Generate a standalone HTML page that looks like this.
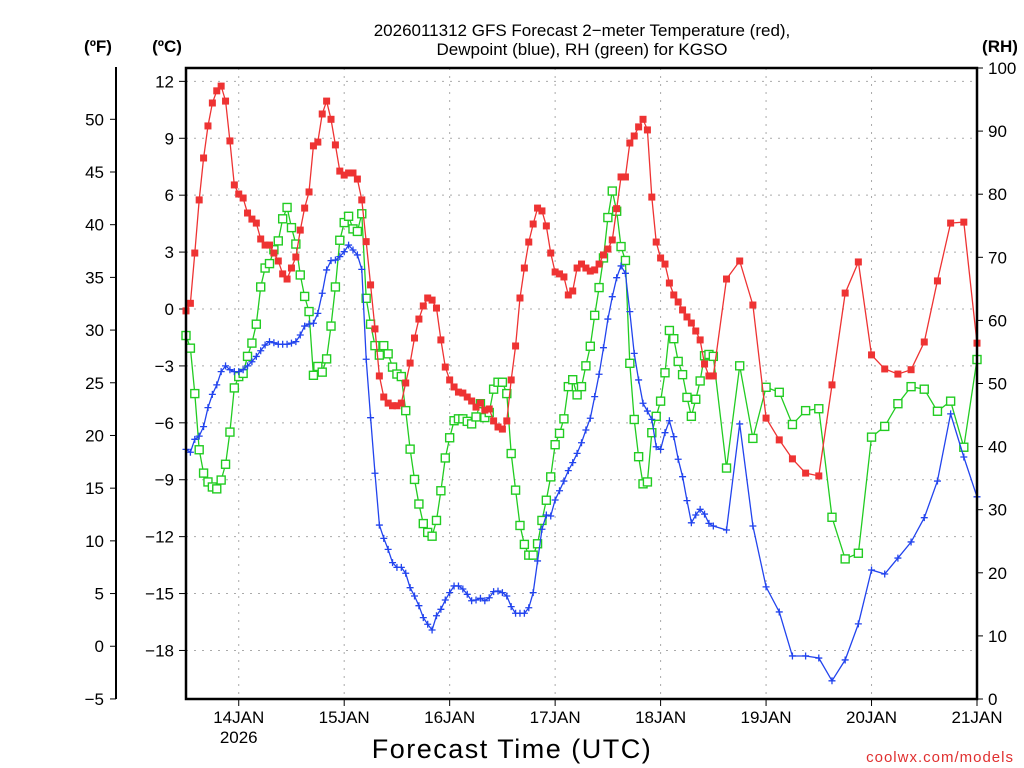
<!DOCTYPE html>
<html><head><meta charset="utf-8"><style>
body{margin:0;background:#fff;}
svg{display:block;font-family:"Liberation Sans","DejaVu Sans",sans-serif;}
</style></head><body>
<svg id="chart" width="1024" height="768" viewBox="0 0 1024 768" xmlns="http://www.w3.org/2000/svg">
<text x="582" y="36" font-size="17" text-anchor="middle" fill="#000">2026011312 GFS Forecast 2−meter Temperature (red),</text>
<text x="582" y="55" font-size="17" text-anchor="middle" fill="#000">Dewpoint (blue), RH (green) for KGSO</text>
<text x="98" y="52" font-size="17" font-weight="bold" text-anchor="middle">(ºF)</text>
<text x="167" y="52" font-size="17" font-weight="bold" text-anchor="middle">(ºC)</text>
<text x="1000" y="52" font-size="17" font-weight="bold" text-anchor="middle">(RH)</text>
<text x="512" y="758" font-size="27" text-anchor="middle" letter-spacing="1.5">Forecast Time (UTC)</text>
<text x="1014" y="762" font-size="15" text-anchor="end" fill="#e03030" letter-spacing="1">coolwx.com/models</text>
<g id="grid"></g><g id="axes"></g><g id="series"></g>
<rect x="186" y="68" width="791" height="631" fill="none" stroke="#000" stroke-width="2.5"/>
</svg>
<script>
const hoursHourly = Array.from({length:121},(_,i)=>i);
const hours3 = [123,126,129,132,135,138,141,144,147,150,153,156,159,162,165,168,171,174,177,180];
const tempC = [-0.1,0.3,2.95,5.75,7.96,9.65,10.86,11.5,11.75,10.96,8.86,6.54,6.06,5.85,5.06,4.74,4.53,3.69,3.37,3.37,2.95,2.53,1.85,1.58,2.16,2.74,4.16,5.32,6.17,8.6,8.8,10.28,10.96,10.0,8.65,7.27,7.06,7.17,7.17,6.85,5.75,3.55,1.27,-1.05,-3.53,-4.64,-4.96,-5.1,-5.1,-4.96,-3.9,-2.85,-1.53,-0.53,0.16,0.58,0.47,0.05,-1.63,-3.06,-3.74,-4.11,-4.38,-4.43,-4.64,-4.85,-5.17,-4.96,-5.33,-5.27,-5.9,-6.22,-6.33,-5.9,-3.74,-1.95,0.58,2.16,3.53,4.48,5.32,5.17,4.38,2.95,1.95,1.85,1.69,0.74,0.95,2.16,2.37,2.16,2.0,2.06,2.37,2.85,3.16,3.64,5.29,6.96,6.96,8.75,9.12,9.6,10.0,9.44,5.9,3.53,2.69,2.37,1.37,0.74,0.37,-0.05,-0.42,-0.74,-1.16,-1.63,-2.9,-3.53,-3.53,
1.58,2.53,0.21,-5.75,-6.9,-7.9,-8.65,-8.8,-4.0,0.84,2.48,-2.42,-3.16,-3.43,-3.2,-1.74,1.48,4.53,4.58,-1.8];
const dewC = [-7.4,-7.55,-6.87,-6.7,-6.2,-5.2,-4.5,-4.0,-3.3,-3.0,-3.2,-3.3,-3.3,-3.2,-3.0,-2.78,-2.5,-2.2,-1.9,-1.72,-1.78,-1.86,-1.86,-1.86,-1.8,-1.72,-1.37,-0.9,-0.79,-0.75,-0.23,0.83,2.06,2.55,2.58,2.76,3.02,3.37,3.11,2.85,2.09,-2.65,-5.73,-8.66,-11.39,-12.09,-12.67,-13.37,-13.62,-13.62,-13.93,-14.69,-15.13,-15.64,-16.27,-16.62,-16.92,-16.17,-15.83,-15.34,-14.95,-14.6,-14.6,-14.76,-15.04,-15.38,-15.34,-15.25,-15.38,-15.22,-14.9,-14.87,-14.95,-15.13,-15.69,-16.04,-16.04,-16.04,-15.75,-14.95,-13.28,-11.61,-10.86,-10.91,-10.07,-9.58,-9.07,-8.52,-8.1,-7.61,-7.05,-6.38,-5.76,-4.62,-3.44,-2.04,-0.53,0.65,1.65,2.27,1.88,-0.14,-2.34,-3.74,-4.97,-5.38,-5.82,-7.26,-7.4,-6.52,-5.89,-6.73,-7.92,-8.84,-10.1,-11.27,-10.86,-10.56,-10.81,-11.3,-11.44,
-11.65,-6.06,-11.44,-14.65,-15.97,-18.29,-18.29,-18.4,-19.6,-18.5,-16.6,-13.76,-13.97,-13.13,-12.28,-11.0,-9.07,-5.53,-7.8,-9.9];
const rhPct = [57.6,55.6,48.4,39.5,35.8,34.4,33.6,33.3,34.7,37.2,42.3,49.3,51.1,51.6,54.3,56.4,59.4,65.3,68.3,69.0,71.2,72.6,76.1,77.9,74.7,72.1,67.2,63.8,61.4,51.3,52.7,51.8,53.9,59.1,65.3,72.7,75.5,76.5,74.5,74.1,76.9,63.5,59.4,56.0,54.5,56.0,54.7,52.6,51.5,51.1,45.7,39.6,34.8,30.9,27.8,26.4,25.8,28.3,33.0,38.2,41.4,44.1,44.4,44.4,44.0,43.6,44.7,46.8,44.6,45.4,49.1,50.2,50.2,48.4,38.9,33.1,27.5,24.5,22.8,22.8,24.6,28.3,31.5,35.2,40.3,42.1,44.4,49.5,50.6,48.2,49.5,52.8,55.9,60.8,65.2,69.9,76.3,80.5,77.3,71.7,69.5,53.2,44.3,38.4,34.1,34.4,42.2,44.8,47.2,51.7,58.4,57.1,53.5,51.4,47.8,44.8,47.5,50.4,54.4,54.6,54.3,
36.6,52.8,41.3,49.4,48.6,43.5,45.7,46.0,28.8,22.2,23.1,41.5,43.2,46.8,49.5,49.1,45.6,47.2,39.9,53.8];
const dayLabels = ["14JAN","15JAN","16JAN","17JAN","18JAN","19JAN","20JAN","21JAN"];
const cTicks = [12,9,6,3,0,-3,-6,-9,-12,-15,-18];
const fTicks = [50,45,40,35,30,25,20,15,10,5,0,-5];
const rhTicks = [100,90,80,70,60,50,40,30,20,10,0];

const NS="http://www.w3.org/2000/svg";
const X0=186,X1=977,Y0=68,Y1=699;
const xH = h => X0 + (h/180)*(X1-X0);
const yC = c => 309 - c*18.97;
const yF = f => yC((f-32)*5/9);
const yR = r => Y1 - r*(Y1-Y0)/100;
const hours = hoursHourly.concat(hours3);
function el(tag, attrs, parent, text){const e=document.createElementNS(NS,tag);for(const k in attrs)e.setAttribute(k,attrs[k]);if(text!==undefined)e.textContent=text;parent.appendChild(e);return e;}
const grid=document.getElementById('grid'),axes=document.getElementById('axes'),series=document.getElementById('series');

cTicks.forEach(c=>{const y=yC(c);
  const g=el('line',{x1:X0,x2:X1,y1:y,y2:y,stroke:'#aaa','stroke-dasharray':'2,6'},grid);
  
  
  el('line',{x1:X0-7,x2:X0,y1:y,y2:y,stroke:'#000'},axes);
  const t=el('text',{x:X0-12,y:y+6,'font-size':17,'text-anchor':'end'},axes,String(c).replace('-','−'));
  
  
});
dayLabels.forEach((d,i)=>{const x=xH(12+24*i);
  const g=el('line',{x1:x,x2:x,y1:Y0,y2:Y1,stroke:'#aaa','stroke-dasharray':'2,6'},grid);
  
  
  el('line',{x1:x,x2:x,y1:Y1,y2:Y1+7,stroke:'#000'},axes);
  const t=el('text',{x:x,y:Y1+24,'font-size':17,'text-anchor':'middle'},axes,d);
  
  
});
{const t=el('text',{x:xH(12),y:Y1+44,'font-size':17,'text-anchor':'middle'},axes,'2026');
 
 }
el('line',{x1:116,x2:116,y1:67,y2:Y1,stroke:'#000','stroke-width':2},axes);
fTicks.forEach(f=>{const y=yF(f);
  el('line',{x1:110,x2:116,y1:y,y2:y,stroke:'#000'},axes);
  const t=el('text',{x:104,y:y+6,'font-size':17,'text-anchor':'end'},axes,String(f).replace('-','−'));
  
  
});
rhTicks.forEach(r=>{const y=yR(r);
  el('line',{x1:X1,x2:X1+6,y1:y,y2:y,stroke:'#000'},axes);
  const t=el('text',{x:X1+11,y:y+6,'font-size':17,'text-anchor':'start'},axes,String(r));
  
  
});

function drawSeries(vals, yf, color, marker, name){
  const pts=vals.map((v,i)=>xH(hours[i]).toFixed(1)+','+yf(v).toFixed(1)).join(' ');
  const pl=el('polyline',{points:pts,fill:'none',stroke:color,'stroke-width':1.3},series);
  
  
  vals.forEach((v,i)=>{const x=xH(hours[i]),y=yf(v);let m;
    if(marker==='sq') m=el('rect',{x:x-3.5,y:y-3.5,width:7,height:7,fill:color},series);
    else if(marker==='osq') m=el('rect',{x:x-4,y:y-4,width:8,height:8,fill:'#fff',stroke:color,'stroke-width':1.4},series);
    else m=el('path',{d:`M${x-3.5},${y}H${x+3.5}M${x},${y-3.5}V${y+3.5}`,stroke:color,'stroke-width':1.3},series);
    
    
  });
}
drawSeries(rhPct,yR,'#22cc22','osq','rh');
drawSeries(dewC,yC,'#2244ee','plus','dewpoint');
drawSeries(tempC,yC,'#ee3333','sq','temperature');
</script>
</body></html>
